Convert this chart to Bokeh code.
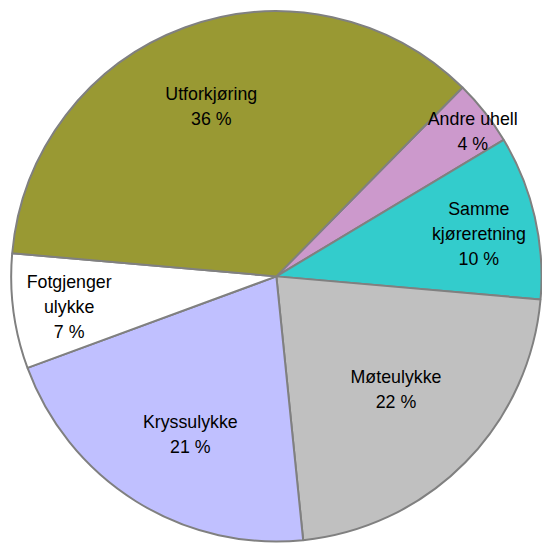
import math
from bokeh.plotting import figure
from bokeh.models import Range1d, ColumnDataSource
from bokeh.core.properties import value
from bokeh.embed import file_html
from bokeh.resources import INLINE

# Data
categories = ["Andre uhell", "Samme\nkjøreretning", "Møteulykke", "Kryssulykke", "Fotgjenger\nulykke", "Utforkjøring"]
percent = [4, 10, 22, 21, 7, 36]
colors = ["#CC99CC", "#33CCCC", "#C0C0C0", "#C0C0FF", "#FFFFFF", "#999933"]

# Layout (label placement relative to pie)
start_deg = 45.4
label_rfac = [0.92, 0.78, 0.62, 0.68, 0.79, 0.685]
label_dang = [-1.8, -1.3, 1.3, 3.5, 0.9, 0.8]

W, H = 542, 543
RW, RH = 558, 559
cx, cy, r = 284, RH - 284, 273

starts, ends, lx, ly, texts = [], [], [], [], []
cum = 0.0
for i, pct in enumerate(percent):
    a0 = start_deg - cum * 3.6
    a1 = a0 - pct * 3.6
    cum += pct
    starts.append(math.radians(a1))
    ends.append(math.radians(a0))
    mid = math.radians((a0 + a1) / 2 + label_dang[i])
    lx.append(cx + label_rfac[i] * r * math.cos(mid))
    ly.append(cy + label_rfac[i] * r * math.sin(mid))
    texts.append(f"{categories[i]}\n{pct} %")

src = ColumnDataSource(dict(start=starts, end=ends, color=colors))
lsrc = ColumnDataSource(dict(x=lx, y=ly, text=texts))

p = figure(width=W, height=H, output_backend="svg", toolbar_location=None,
           x_range=Range1d(0, RW), y_range=Range1d(0, RH),
           min_border=0)
p.axis.visible = False
p.grid.visible = False
p.outline_line_color = None
p.background_fill_color = "white"

p.wedge(x=cx, y=cy, radius=r, start_angle="start", end_angle="end",
        direction="anticlock", fill_color="color", line_color="#808080",
        line_width=2, source=src)

p.text(x="x", y="y", text="text", source=lsrc, text_align="center",
       text_baseline="middle", text_font=value("Liberation Sans"),
       text_font_size="17.8px", text_color="black", text_line_height=1.25)

open("out.html", "w").write(file_html(p, INLINE))
